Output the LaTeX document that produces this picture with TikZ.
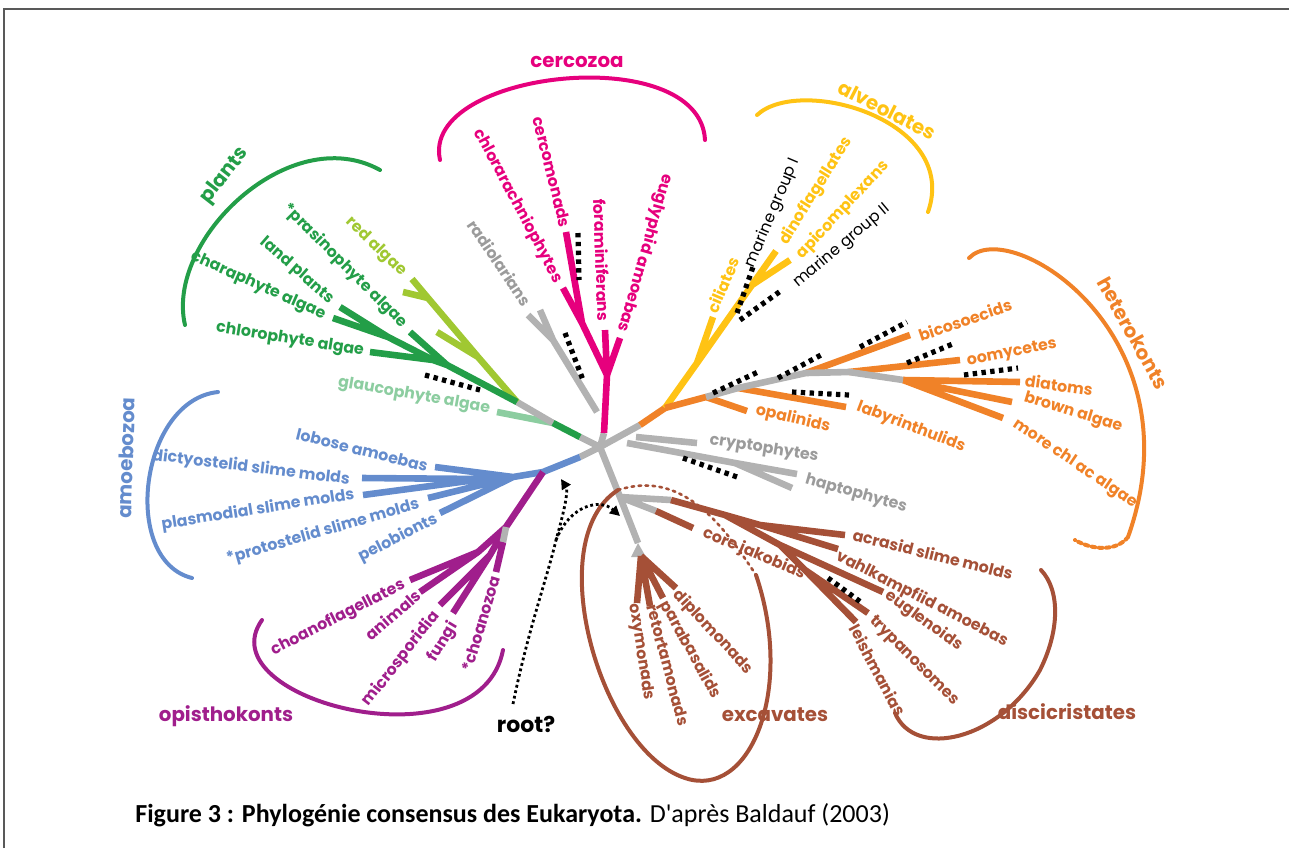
\documentclass[tikz,border=0pt]{standalone}
\usepackage{fontspec}
\newfontfamily\lblfont{Poppins}
\newfontfamily\capfont{Carlito}
\usetikzlibrary{arrows.meta}

\definecolor{plantgreen}{RGB}{35,158,72}
\definecolor{redalga}{RGB}{160,200,50}
\definecolor{glaucomint}{RGB}{140,205,160}
\definecolor{cercomag}{RGB}{230,0,125}
\definecolor{alvyellow}{RGB}{255,195,20}
\definecolor{hetorange}{RGB}{240,130,40}
\definecolor{treegray}{RGB}{178,178,178}
\definecolor{labgray}{RGB}{155,155,155}
\definecolor{amoeblue}{RGB}{100,140,205}
\definecolor{opispurple}{RGB}{160,30,140}
\definecolor{excbrown}{RGB}{165,80,55}

\tikzset{
  br/.style={line width=3.3pt, line join=round},
  grparc/.style={line width=2pt, line cap=round},
  unk/.style={black, line width=2.6pt, dash pattern=on 2.2pt off 2.2pt},
  lbl/.style={font=\lblfont\bfseries\fontsize{7.9}{8}\selectfont, inner sep=0pt},
  grplbl/.style={font=\lblfont\bfseries\fontsize{9.9}{10}\selectfont, inner sep=0pt},
  mglbl/.style={font=\lblfont\fontsize{7.9}{8}\selectfont, inner sep=0pt},
  rootarr/.style={black, line width=1.4pt, dash pattern=on 1.4pt off 1.4pt, -{Triangle[length=5pt,width=5pt]}},
}

\begin{document}
\begin{tikzpicture}[x=0.5pt, y=-0.5pt]
  \useasboundingbox (0,0) rectangle (1289,848);
  \draw[black!65, line width=1pt] (4,848) -- (4,9) -- (1289,9);

  \coordinate (hub) at (600,447);

  % plants
  \coordinate (pl0) at (580,437);
  \coordinate (pl1) at (553,423);
  \coordinate (pl2) at (517,402);
  \coordinate (gltip) at (497,412);
  \coordinate (ra1) at (478,357);
  \coordinate (ra2) at (428,298);
  \coordinate (ratip) at (412,279);
  \coordinate (rbtip) at (403,292);
  \coordinate (rctip) at (437,332);
  \coordinate (pg1) at (447,365);
  \coordinate (pg2) at (433,360);
  \coordinate (pg3) at (388,337);
  \coordinate (prtip) at (410,332);
  \coordinate (chtip) at (370,352);
  \coordinate (lptip) at (340,307);
  \coordinate (cptip) at (333,318);
  \draw[br, glaucomint] (pl1) -- (gltip);
  \draw[br, treegray] (hub) -- (pl0) (pl1) -- (pl2);
  \draw[br, plantgreen] (pl0) -- (pl1);
  \draw[br, redalga] (pl2) -- (ra1) -- (ra2) -- (ratip) (ra2) -- (rbtip) (ra1) -- (rctip);
  \draw[br, plantgreen] (pl2) -- (pg1) -- (prtip) (pg1) -- (pg2) -- (chtip) (pg2) -- (pg3) -- (lptip) (pg3) -- (cptip);

  % cercozoa
  \coordinate (cz0) at (604,433);
  \coordinate (cz1) at (607,375);
  \coordinate (cz3) at (582,323);
  \coordinate (cmtip) at (566,232);
  \coordinate (catip) at (563,288);
  \coordinate (fotip) at (605,330);
  \coordinate (eutip) at (620,338);
  \coordinate (rd0) at (597,412);
  \coordinate (rd1) at (553,340);
  \coordinate (rdtip1) at (528,315);
  \coordinate (rdtip2) at (540,310);
  \draw[br, treegray] (hub) -- (cz0);
  \draw[br, cercomag] (cz0) -- (cz1) -- (fotip) (cz1) -- (eutip) (cz1) -- (cz3) -- (cmtip) (cz3) -- (catip);
  \draw[br, treegray] (rd0) -- (rd1) -- (rdtip1) (rd1) -- (rdtip2);

  % alveolates
  \coordinate (hk0) at (640,425);
  \coordinate (yo) at (665,408);
  \coordinate (al1) at (697,363);
  \coordinate (al2) at (752,285);
  \coordinate (dntip) at (776,251);
  \coordinate (aptip) at (790,260);
  \coordinate (citip) at (713,317);
  \draw[br, treegray] (hub) -- (hk0);
  \draw[br, hetorange] (hk0) -- (yo);
  \draw[br, alvyellow] (yo) -- (al1) -- (al2) -- (dntip) (al2) -- (aptip) (al1) -- (citip);

  % heterokonts
  \coordinate (hk1) at (706,397);
  \coordinate (hk2) at (738,388);
  \coordinate (hk3) at (806,373);
  \coordinate (hk4) at (849,372);
  \coordinate (hk5) at (903,380);
  \coordinate (optip) at (747,411);
  \coordinate (lytip) at (846,407);
  \coordinate (bitip) at (910,335);
  \coordinate (ootip) at (960,360);
  \coordinate (ditip) at (1020,382);
  \coordinate (batip) at (1012,402);
  \coordinate (mctip) at (1003,418);
  \draw[br, hetorange] (yo) -- (hk1) -- (optip) (hk2) -- (lytip) (hk3) -- (bitip) (hk4) -- (ootip)
    (hk5) -- (ditip) (hk5) -- (batip) (hk5) -- (mctip);
  \draw[br, treegray] (hk1) -- (hk2) -- (hk3) -- (hk4) -- (hk5);

  % cryptophytes, haptophytes
  \coordinate (cr0) at (636,437);
  \coordinate (crtip) at (697,443);
  \coordinate (hp0) at (627,443);
  \coordinate (hp1) at (735,463);
  \coordinate (hptip1) at (797,474);
  \coordinate (hptip2) at (792,488);
  \draw[br, treegray] (cr0) -- (crtip) (hp0) -- (hp1) -- (hptip1) (hp1) -- (hptip2);

  % excavates, discicristates
  \coordinate (ex0) at (620,497);
  \coordinate (ex1) at (638,543);
  \coordinate (ex2) at (641,556);
  \coordinate (dc0) at (671,500);
  \coordinate (jk0) at (656,511);
  \coordinate (jktip) at (693,528);
  \coordinate (oxtip) at (637,603);
  \coordinate (rttip) at (650,606);
  \coordinate (pbtip) at (663,598);
  \coordinate (dptip) at (676,588);
  \coordinate (dc1) at (725,515);
  \coordinate (dc2) at (760,525);
  \coordinate (dc3) at (780,545);
  \coordinate (dc4) at (805,570);
  \coordinate (actip) at (845,535);
  \coordinate (vhtip) at (838,549);
  \coordinate (egtip) at (883,592);
  \coordinate (trtip) at (868,613);
  \coordinate (lstip) at (856,622);
  \draw[br, treegray] (hub) -- (ex0) -- (ex1) (ex0) -- (dc0) (ex0) -- (jk0);
  \fill[treegray] (ex1) -- ++(-7,14) -- ++(15,0) -- cycle;
  \draw[br, excbrown] (ex2) -- (oxtip) (ex2) -- (rttip) (ex2) -- (pbtip) (ex2) -- (dptip) (jk0) -- (jktip);
  \draw[br, excbrown] (dc0) -- (dc1) -- (dc2) -- (actip) (dc2) -- (vhtip) (dc1) -- (dc3) -- (egtip)
    (dc3) -- (dc4) -- (trtip) (dc4) -- (lstip);

  % amoebozoa
  \coordinate (am0) at (580,457);
  \coordinate (am1) at (543,472);
  \coordinate (am2) at (513,477);
  \coordinate (am3) at (483,479);
  \coordinate (lbtip) at (435,467);
  \coordinate (dytip) at (362,478);
  \coordinate (plmtip) at (363,495);
  \coordinate (pstip) at (428,498);
  \coordinate (petip) at (440,513);
  \draw[br, treegray] (hub) -- (am0);
  \draw[br, amoeblue] (am0) -- (am1) -- (am2) -- (lbtip) (am2) -- (am3) -- (dytip) (am3) -- (plmtip)
    (am2) -- (pstip) (am2) -- (petip);

  % opisthokonts
  \coordinate (op1) at (506,527);
  \coordinate (op2) at (478,552);
  \coordinate (op3) at (490,555);
  \coordinate (czw) at (503,542);
  \coordinate (cftip) at (410,580);
  \coordinate (antip) at (420,592);
  \coordinate (mstip) at (440,605);
  \coordinate (fgtip) at (453,613);
  \coordinate (cztip) at (496,572);
  \draw[br, opispurple] (am1) -- (op1) -- (op2) -- (cftip) (op2) -- (antip) (op1) -- (op3) -- (mstip)
    (op3) -- (fgtip) (czw) -- (cztip);
  \draw[br, treegray] (op1) -- (czw);

  % uncertain positions
  \foreach \a/\b in {425/375, 565/333, 578/233, 737/313, 740/320, 713/393, 778/378, 860/347,
                     907/363, 964/375, 792/392, 683/458, 828/578}
    \coordinate (u\a) at (\a,\b);
  \foreach \a/\b in {480/390, 583/380, 579/280, 753/267, 782/290, 758/372, 821/355, 907/322,
                     955/343, 1018/368, 849/395, 740/478, 862/603}
    \coordinate (v\a) at (\a,\b);
  \foreach \p/\q in {425/480, 565/583, 578/579, 737/753, 740/782, 713/758, 778/821, 860/907,
                     907/955, 964/1018, 792/849, 683/740, 828/862}
    \draw[unk] (u\p) -- (v\q);

  % group brackets
  \draw[grparc, plantgreen] (185,325) .. controls (165,240) and (290,120) .. (380,170);
  \draw[grparc, cercomag] (440,160) .. controls (420,70) and (700,40) .. (705,140);
  \draw[grparc, alvyellow] (757,115) .. controls (800,75) and (960,120) .. (928,212);
  \draw[grparc, hetorange] (969,258) .. controls (1010,215) and (1200,335) .. (1128,537);
  \draw[grparc, hetorange, dash pattern=on 1.8pt off 1.8pt] (1128,537) .. controls (1116,552) and (1092,550) .. (1075,540);
  \draw[grparc, amoeblue] (218,392) .. controls (140,400) and (120,560) .. (192,578);
  \draw[grparc, opispurple] (262,620) .. controls (205,700) and (480,770) .. (503,650);
  \draw[grparc, excbrown] (756,575) .. controls (795,690) and (750,800) .. (685,778)
    .. controls (600,750) and (540,540) .. (618,490);
  \draw[grparc, excbrown, line width=1.3pt, dash pattern=on 1.3pt off 2.2pt] (618,490) .. controls (680,470) and (720,520) .. (756,575);
  \draw[grparc, excbrown] (895,713) .. controls (915,760) and (1000,740) .. (1040,670)
    .. controls (1060,630) and (1060,590) .. (1041,570);

  % root
  \coordinate (rtstart) at (513,704);
  \coordinate (rtfork) at (556,540);
  \coordinate (rttop) at (561,479);
  \coordinate (rtright) at (620,516);
  \draw[rootarr] (rtstart) .. controls (528,630) and (548,575) .. (rtfork) .. controls (566,505) and (568,490) .. (rttop);
  \draw[rootarr] (rtfork) .. controls (570,505) and (600,498) .. (rtright);
  \node[font=\lblfont\bfseries\fontsize{11}{12}\selectfont, inner sep=0pt] (rootlab) at (526,724) {root?};

  % labels
  \node[lbl, plantgreen, rotate=-9] (chlorolab) at (290,340) {chlorophyte algae};
  \node[lbl, plantgreen, rotate=-24] (charalab) at (258,286) {charaphyte algae};
  \node[lbl, plantgreen, rotate=-41] (landlab) at (297,271) {land plants};
  \node[lbl, plantgreen, rotate=-45] (prasinolab) at (345,266) {*prasinophyte algae};
  \node[lbl, redalga, rotate=-44] (redlab) at (376,247) {red algae};
  \node[lbl, glaucomint, rotate=-10] (glaucolab) at (414,396) {glaucophyte algae};
  \node[grplbl, plantgreen, rotate=52] (plantslab) at (225,176) {plants};

  \node[lbl, cercomag, rotate=-76] (cercomlab) at (552,172) {cercomonads};
  \node[lbl, cercomag, rotate=-62] (chlorarlab) at (518,206) {chlorarachniophytes};
  \node[lbl, cercomag, rotate=-88] (foramlab) at (602,260) {foraminiferans};
  \node[lbl, cercomag, rotate=-106] (euglylab) at (645,253) {euglyphid amoebas};
  \node[lbl, labgray, rotate=-56] (radiolab) at (500,263) {radiolarians};
  \node[grplbl, cercomag] (cercozoalab) at (577,62) {cercozoa};

  \node[lbl, alvyellow, rotate=67] (cililab) at (723,285) {ciliates};
  \node[mglbl, rotate=67] (mgonelab) at (773,213) {marine group I};
  \node[lbl, alvyellow, rotate=58] (dinolab) at (816,191) {dinoflagellates};
  \node[lbl, alvyellow, rotate=47] (apilab) at (843,210) {apicomplexans};
  \node[mglbl, rotate=40] (mgtwolab) at (842,246) {marine group II};
  \node[grplbl, alvyellow, rotate=-27] (alveolab) at (887,110) {alveolates};

  \node[lbl, hetorange, rotate=19] (bicolab) at (965,320) {bicosoecids};
  \node[lbl, hetorange, rotate=11] (oomylab) at (1012,353) {oomycetes};
  \node[lbl, hetorange, rotate=-8] (diatlab) at (1059,385) {diatoms};
  \node[lbl, hetorange, rotate=-17] (brownlab) at (1073,413) {brown algae};
  \node[lbl, hetorange, rotate=-34] (morechllab) at (1075,464) {more chl ac algae};
  \node[lbl, hetorange, rotate=-13] (opallab) at (793,419) {opalinids};
  \node[lbl, hetorange, rotate=-21] (labyrlab) at (911,427) {labyrinthulids};
  \node[grplbl, hetorange, rotate=-61] (heterolab) at (1133,333) {heterokonts};

  \node[lbl, labgray, rotate=-9] (cryptolab) at (764,449) {cryptophytes};
  \node[lbl, labgray, rotate=-16] (haptolab) at (856,494) {haptophytes};

  \node[lbl, excbrown, rotate=-23] (corelab) at (754,554) {core jakobids};
  \node[lbl, excbrown, rotate=-14] (acrasidlab) at (933,554) {acrasid slime molds};
  \node[lbl, excbrown, rotate=-27] (vahllab) at (922,599) {vahlkampfiid amoebas};
  \node[lbl, excbrown, rotate=-36] (eugllab) at (924,621) {euglenoids};
  \node[lbl, excbrown, rotate=-45] (trypalab) at (914,661) {trypanosomes};
  \node[lbl, excbrown, rotate=-62] (leishlab) at (878,670) {leishmanias};
  \node[lbl, excbrown, rotate=-47] (diplolab) at (713,632) {diplomonads};
  \node[lbl, excbrown, rotate=-61] (parablab) at (690,650) {parabasalids};
  \node[lbl, excbrown, rotate=-75] (retortlab) at (668,665) {retortamonads};
  \node[lbl, excbrown, rotate=-81] (oxylab) at (641,652) {oxymonads};
  \node[grplbl, excbrown] (excavlab) at (775,715) {excavates};
  \node[grplbl, excbrown] (discilab) at (1067,712) {discicristates};

  \node[lbl, amoeblue, rotate=-14] (loboselab) at (362,450) {lobose amoebas};
  \node[lbl, amoeblue, rotate=-7] (dictylab) at (251,468) {dictyostelid slime molds};
  \node[lbl, amoeblue, rotate=9] (plasmlab) at (258,510) {plasmodial slime molds};
  \node[lbl, amoeblue, rotate=16] (protolab) at (323,532) {*protostelid slime molds};
  \node[lbl, amoeblue, rotate=27] (pelolab) at (398,538) {pelobionts};
  \node[grplbl, amoeblue, rotate=88] (amoebolab) at (126,458) {amoebozoa};

  \node[lbl, opispurple, rotate=27] (choanofllab) at (338,618) {choanoflagellates};
  \node[lbl, opispurple, rotate=41] (animlab) at (393,615) {animals};
  \node[lbl, opispurple, rotate=52] (microlab) at (401,659) {microsporidia};
  \node[lbl, opispurple, rotate=59] (fungilab) at (443,642) {fungi};
  \node[lbl, opispurple, rotate=73] (choanozlab) at (481,624) {*choanozoa};
  \node[grplbl, opispurple] (opistholab) at (226,716) {opisthokonts};

  \node[anchor=base west, font=\capfont\fontsize{13}{15}\selectfont, inner sep=0pt] (caption) at (135,822)
    {\textbf{Figure 3 : Phylogénie consensus des Eukaryota.} D\textquotesingle après Baldauf (2003)};
\end{tikzpicture}
\end{document}
